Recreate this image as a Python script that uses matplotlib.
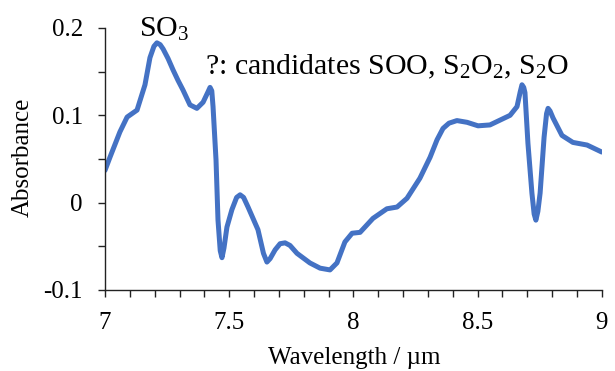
import matplotlib
matplotlib.use("Agg")
import matplotlib.pyplot as plt
from matplotlib.ticker import MultipleLocator, FixedLocator

plt.rcParams['font.family'] = ['Liberation Serif', 'DejaVu Serif']
plt.rcParams['mathtext.fontset'] = 'custom'
plt.rcParams['mathtext.rm'] = 'Liberation Serif'
plt.rcParams['mathtext.it'] = 'Liberation Serif:italic'
plt.rcParams['axes.unicode_minus'] = False

wavelength = [7.000, 7.020, 7.060, 7.089, 7.129, 7.161, 7.181, 7.197, 7.209, 7.222, 7.234, 7.254, 7.274, 7.294,
              7.314, 7.342, 7.370, 7.395, 7.415, 7.423, 7.430, 7.435, 7.447, 7.455, 7.464, 7.471, 7.479, 7.491,
              7.511, 7.530, 7.544, 7.558, 7.576, 7.616, 7.638, 7.652, 7.665, 7.685, 7.705, 7.725, 7.745, 7.773, 7.825, 7.866,
              7.906, 7.934, 7.966, 7.995, 8.027, 8.079, 8.135, 8.176, 8.216, 8.268,
              8.309, 8.337, 8.361, 8.385, 8.417, 8.458, 8.502, 8.550, 8.631, 8.659, 8.672, 8.679,
              8.686, 8.691, 8.703, 8.719, 8.728, 8.735, 8.743, 8.752, 8.768, 8.778, 8.784, 8.792, 8.804, 8.840, 8.884,
              8.941, 9.000]
absorbance = [0.037, 0.052, 0.081, 0.098, 0.106, 0.135, 0.166, 0.179, 0.183, 0.181, 0.176, 0.165, 0.152, 0.140,
              0.129, 0.112, 0.108, 0.115, 0.127, 0.132, 0.128, 0.110, 0.049, -0.020, -0.055, -0.063, -0.052, -0.028,
              -0.008, 0.006, 0.009, 0.006, -0.005, -0.031, -0.058, -0.068, -0.064, -0.054, -0.047, -0.046, -0.049, -0.058, -0.069, -0.075,
              -0.077, -0.069, -0.045, -0.035, -0.034, -0.018, -0.007, -0.005, 0.005, 0.028,
              0.052, 0.072, 0.085, 0.091, 0.094, 0.092, 0.088, 0.089, 0.100, 0.110, 0.127, 0.135,
              0.132, 0.126, 0.068, 0.011, -0.013, -0.020, -0.010, 0.011, 0.075, 0.102, 0.108, 0.105, 0.097, 0.077, 0.069,
              0.066, 0.058]

x_ticks = [7, 7.5, 8, 8.5, 9]
x_tick_labels = ["7", "7.5", "8", "8.5", "9"]
y_ticks = [-0.1, 0, 0.1, 0.2]
y_tick_labels = ["-0.1", "0", "0.1", "0.2"]

fig = plt.figure(figsize=(6.15, 3.71), dpi=100)
ax = fig.add_axes([105/615, 1-290/371, (601.7-105)/615, (290-28)/371])
ax.plot(wavelength, absorbance, color='#4472C4', lw=3.6,
        solid_joinstyle='round', solid_capstyle='round')

ax.set_xlim(7, 9)
ax.set_ylim(-0.1, 0.2)
for s in ['top', 'right']:
    ax.spines[s].set_visible(False)
for s in ['left', 'bottom']:
    ax.spines[s].set_color('#222222')
    ax.spines[s].set_linewidth(1.0)

ax.xaxis.set_major_locator(FixedLocator(x_ticks))
ax.set_xticklabels(x_tick_labels)
ax.yaxis.set_major_locator(FixedLocator(y_ticks))
ax.set_yticklabels(y_tick_labels)
ax.xaxis.set_minor_locator(MultipleLocator(0.1))
ax.yaxis.set_minor_locator(MultipleLocator(0.05))
ax.tick_params(which='both', direction='out', length=5, width=1.0, color='#222222')
ax.tick_params(which='major', labelsize=18, pad=11)

ax.set_xlabel("Wavelength / µm", fontsize=18)
ax.set_ylabel("Absorbance", fontsize=18)
ax.xaxis.set_label_coords((354-105)/496.7, (290-347)/262)
ax.yaxis.set_label_coords((34-105)/496.7, (290-157)/262)

ax.text(7.236, 0.19, r"SO$_3$", fontsize=21.5, ha='center', va='baseline')
ax.text(7.403, 0.147, r"?: candidates SOO, S$_2$O$_2$, S$_2$O", fontsize=21.5,
        ha='left', va='baseline')

fig.savefig("out.png", dpi=100)
